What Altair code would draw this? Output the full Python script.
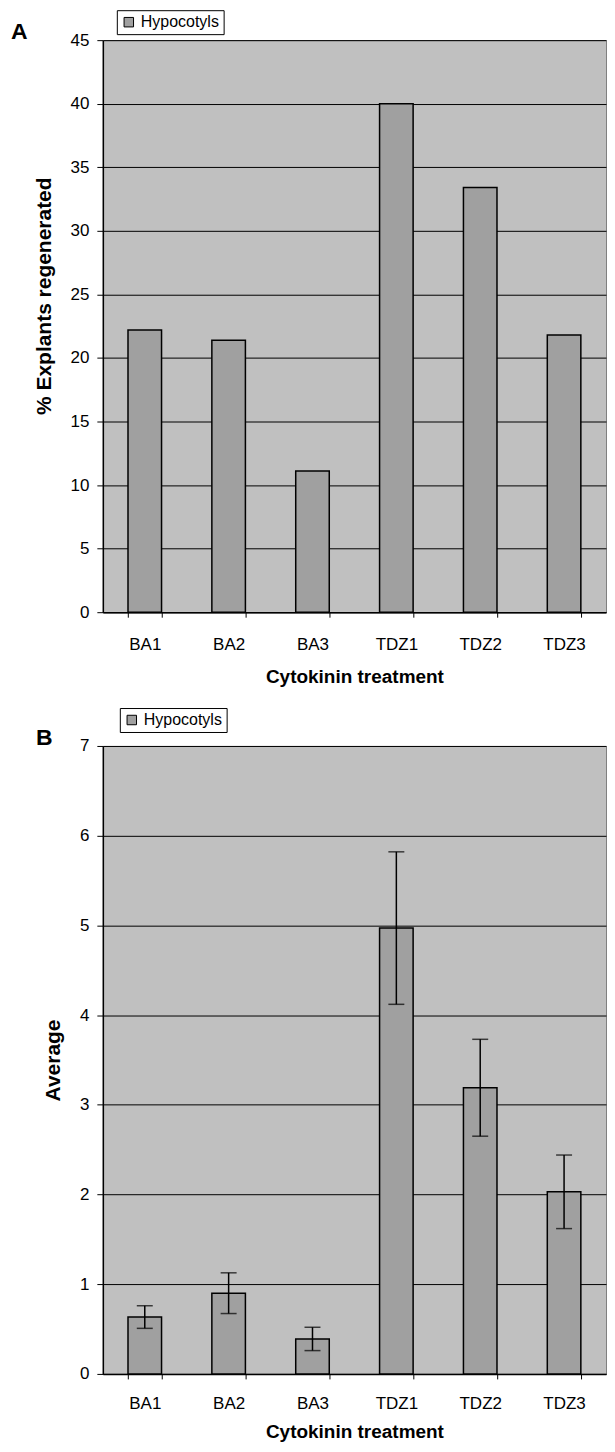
import altair as alt
import pandas as pd

categories = ["BA1", "BA2", "BA3", "TDZ1", "TDZ2", "TDZ3"]
series_name = ["Hypocotyls"] * 6
pct_regenerated = [22.2, 21.4, 11.1, 40.0, 33.4, 21.8]
avg_values = [0.634, 0.90, 0.39, 4.97, 3.19, 2.03]
avg_err = [0.126, 0.227, 0.13, 0.85, 0.54, 0.41]
yticks_a = [0, 5, 10, 15, 20, 25, 30, 35, 40, 45]
yticks_b = [0, 1, 2, 3, 4, 5, 6, 7]
panel_a = ["A"]
panel_b = ["B"]

FONT = "Liberation Sans"
BAR_FILL = "#a0a0a0"
W = 504

dfA = pd.DataFrame({"cat": categories, "val": pct_regenerated, "series": series_name})
dfB = pd.DataFrame({"cat": categories, "val": avg_values, "series": series_name,
                    "lo": [m - e for m, e in zip(avg_values, avg_err)],
                    "hi": [m + e for m, e in zip(avg_values, avg_err)]})

xscale = alt.Scale(paddingInner=0.6, paddingOuter=0.3)

def x_enc(label_pad, title_pad):
    return alt.X("cat:N", sort=categories, scale=xscale,
                 axis=alt.Axis(title="Cytokinin treatment", labelAngle=0, tickBand="extent",
                               labelPadding=label_pad, titlePadding=title_pad, tickSize=5, grid=False,
                               labelFontSize=17, titleFontSize=19))

def legend(lx, ly):
    return alt.Legend(orient="none", legendX=lx, legendY=ly, title=None,
                      strokeColor="black", fillColor="white", padding=4,
                      symbolType="square", symbolSize=90, symbolStrokeColor="black",
                      symbolStrokeWidth=1, labelFont=FONT, labelFontSize=16,
                      labelColor="black")

def panel_label(lbl, dx):
    return alt.Chart(pd.DataFrame({"label": lbl})).mark_text(
        font=FONT, fontSize=23, fontWeight="bold", color="black",
        align="left", baseline="alphabetic"
    ).encode(x=alt.value(dx), y=alt.value(-1), text="label:N")

barsA = alt.Chart(dfA).mark_bar(stroke="black", strokeWidth=1.5).encode(
    x=x_enc(19, 15),
    y=alt.Y("val:Q", scale=alt.Scale(domain=[0, 45], nice=False),
            axis=alt.Axis(values=yticks_a, title="% Explants regenerated", titleY=256,
                          tickSize=6, labelPadding=8, titlePadding=16,
                          labelFontSize=17, titleFontSize=21)),
    color=alt.Color("series:N", scale=alt.Scale(range=[BAR_FILL]), legend=legend(14, -30)),
)

chartA = alt.layer(barsA, panel_label(panel_a, -92)).properties(width=W, height=573)

baseB = alt.Chart(dfB)
barsB = baseB.mark_bar(stroke="black", strokeWidth=1.5).encode(
    x=x_enc(17, 11),
    y=alt.Y("val:Q", scale=alt.Scale(domain=[0, 7], nice=False),
            axis=alt.Axis(values=yticks_b, format="d", title="Average",
                          tickSize=6, labelPadding=8, titlePadding=16,
                          labelFontSize=17, titleFontSize=21)),
    color=alt.Color("series:N", scale=alt.Scale(range=[BAR_FILL]), legend=legend(17, -38)),
)
ruleB = baseB.mark_rule(color="black", strokeWidth=1.5).encode(
    x=alt.X("cat:N", sort=categories), y="lo:Q", y2="hi:Q")
capLo = baseB.mark_tick(color="black", thickness=1.5, size=16, orient="horizontal").encode(
    x=alt.X("cat:N", sort=categories), y="lo:Q")
capHi = baseB.mark_tick(color="black", thickness=1.5, size=16, orient="horizontal").encode(
    x=alt.X("cat:N", sort=categories), y="hi:Q")

chartB = alt.layer(barsB, ruleB, capLo, capHi, panel_label(panel_b, -67)).properties(
    width=W, height=629)

chart = alt.vconcat(chartA, chartB, spacing=20).resolve_scale(
    color="independent"
).resolve_legend(
    color="independent"
).properties(
    padding={"left": 2, "top": 0, "right": 0, "bottom": 0}
).configure_view(
    fill="#c0c0c0", stroke="#808080", strokeWidth=1
).configure_axis(
    labelFont=FONT, titleFont=FONT, labelColor="black", titleColor="black",
    tickColor="black", domainColor="black", gridColor="black", gridWidth=1,
    domainWidth=1.5, titleFontWeight="bold"
).configure_axisY(grid=True)

chart.save("out.html", embed_options={"renderer": "svg", "actions": False})
